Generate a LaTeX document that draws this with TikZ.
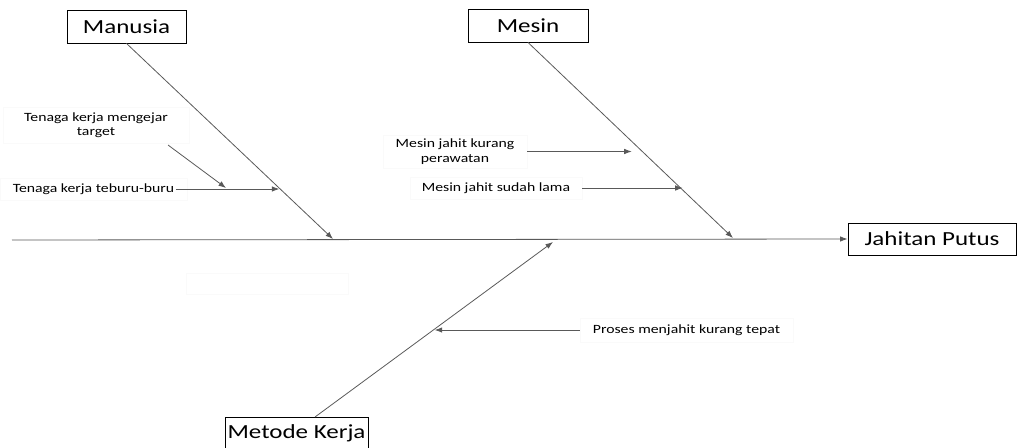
\documentclass[tikz,border=0pt]{standalone}
\usepackage{fontspec}
\setmainfont{Carlito}
\usetikzlibrary{arrows.meta,calc}
\newcommand{\sx}[1]{\scalebox{1.25}[1]{#1}}
\definecolor{faint}{gray}{0.98}
\definecolor{bonec}{gray}{0.35}
\tikzset{
  mainbox/.style={draw=black, line width=0.9pt, inner sep=0pt, font=\fontsize{20}{24}\selectfont},
  causebox/.style={draw=faint, line width=0.6pt, inner sep=0pt, align=center, font=\fontsize{12.6}{14.5}\selectfont},
  bone/.style={draw=bonec, line width=0.8pt},
  arr/.style={draw=bonec, line width=0.8pt, -{Latex[length=7.5pt,width=5.5pt]}}
}
\begin{document}
\begin{tikzpicture}[x=1pt,y=-1pt]
\useasboundingbox (0,0) rectangle (1017,447);
% main boxes
\node[mainbox, minimum width=119pt, minimum height=33pt] (man) at (126.5,26.5) {\sx{Manusia}};
\node[mainbox, minimum width=120pt, minimum height=33pt] (mes) at (528,25.5) {\sx{Mesin}};
\node[mainbox, minimum width=168pt, minimum height=32pt] (jp) at (932,239) {\sx{Jahitan Putus}};
\node[mainbox, minimum width=143pt, minimum height=33pt] (met) at (296.5,433.5) {\sx{Metode Kerja}};
% cause text boxes
\node[causebox, minimum width=186pt, minimum height=36pt] (mt) at (96,125) {\sx{Tenaga kerja mengejar}\\\sx{target}};
\node[causebox, minimum width=187pt, minimum height=22pt] (tb) at (93.5,189) {\sx{Tenaga kerja teburu-buru}};
\node[causebox, minimum width=144pt, minimum height=33pt] (mp) at (455,151.5) {\sx{Mesin jahit kurang}\\\sx{perawatan}};
\node[causebox, minimum width=172pt, minimum height=22pt] (ml) at (496,188) {\sx{Mesin jahit sudah lama}};
\node[causebox, minimum width=213pt, minimum height=24pt] (pr) at (686.5,330) {\sx{Proses menjahit kurang tepat}};
\node[causebox, minimum width=162pt, minimum height=21pt] (emp) at (267,283.5) {};
% spine
\coordinate (spL) at (12,240);
\draw[arr] (spL) -- (jp.west);
% bones
\coordinate (mtip) at (333,239);
\coordinate (stip) at (733,238);
\coordinate (metS) at (315,417);
\coordinate (metT) at (553,242);
\draw[arr] (man.south) -- (mtip);
\draw[arr] (mes.south) -- (stip);
\draw[arr] (metS) -- (metT);
% points on bones
\path (man.south) -- (mtip) coordinate[pos=0.74] (m1);
\path (mes.south) -- (stip) coordinate[pos=0.5255] (s1) coordinate[pos=0.745] (s2);
\path (metS) -- (metT) coordinate[pos=0.503] (k1);
% sub arrows
\coordinate (tbS) at ([xshift=-11pt]tb.east);
\draw[arr] (tbS) -- (tbS -| m1);
\coordinate (mt0) at (168,145);
\coordinate (mt1) at (226,188);
\draw[arr] (mt0) -- (mt1);
\draw[arr] (mp.east) -- ([xshift=-4pt]mp.east -| s1);
\draw[arr] (ml.east) -- ([xshift=2pt]ml.east -| s2);
\draw[arr] (pr.west) -- (pr.west -| k1);
\end{tikzpicture}
\end{document}
